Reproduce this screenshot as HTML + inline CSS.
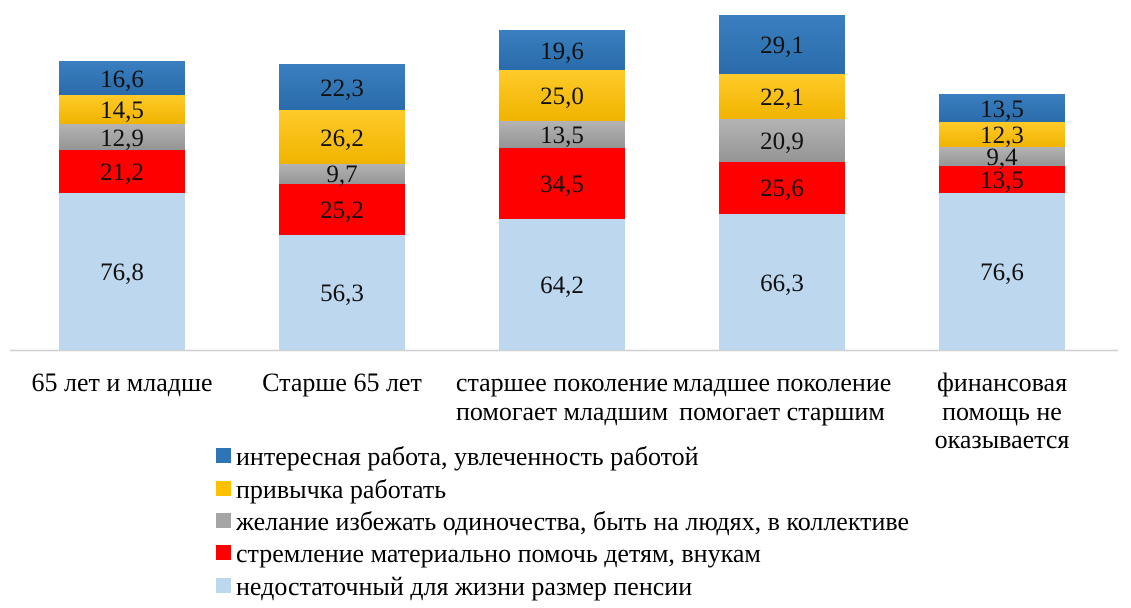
<!DOCTYPE html>
<html><head><meta charset="utf-8"><style>
body{margin:0;background:#fff;}
</style></head><body>
<svg width="1131" height="603" xmlns="http://www.w3.org/2000/svg" font-family="Liberation Serif, serif">
<defs>
<linearGradient id="gb" x1="0" y1="0" x2="0" y2="1"><stop offset="0" stop-color="#3a7fc0"/><stop offset="1" stop-color="#2a6cab"/></linearGradient>
<linearGradient id="gy" x1="0" y1="0" x2="0" y2="1"><stop offset="0" stop-color="#ffcb2a"/><stop offset="1" stop-color="#f0b400"/></linearGradient>
<linearGradient id="gg" x1="0" y1="0" x2="0" y2="1"><stop offset="0" stop-color="#b4b4b4"/><stop offset="1" stop-color="#959595"/></linearGradient>
</defs>
<line x1="10" y1="350.5" x2="1118" y2="350.5" stroke="#d0d0d0" stroke-width="1.5"/>
<g font-size="25" text-anchor="middle" fill="#111">
<rect x="59" y="193" width="126" height="157" fill="#bdd7ee"/>
<rect x="59" y="150" width="126" height="43" fill="#ff0000"/>
<rect x="59" y="124" width="126" height="26" fill="url(#gg)"/>
<rect x="59" y="95" width="126" height="29" fill="url(#gy)"/>
<rect x="59" y="61" width="126" height="34" fill="url(#gb)"/>
<text x="122" y="280">76,8</text><text x="122" y="180">21,2</text><text x="122" y="146">12,9</text><text x="122" y="118">14,5</text><text x="122" y="87">16,6</text>
<rect x="279" y="235" width="126" height="115" fill="#bdd7ee"/>
<rect x="279" y="184" width="126" height="51" fill="#ff0000"/>
<rect x="279" y="164" width="126" height="20" fill="url(#gg)"/>
<rect x="279" y="110" width="126" height="54" fill="url(#gy)"/>
<rect x="279" y="64" width="126" height="46" fill="url(#gb)"/>
<text x="342" y="301">56,3</text><text x="342" y="218">25,2</text><text x="342" y="182">9,7</text><text x="342" y="146">26,2</text><text x="342" y="96">22,3</text>
<rect x="499" y="219" width="126" height="131" fill="#bdd7ee"/>
<rect x="499" y="148" width="126" height="71" fill="#ff0000"/>
<rect x="499" y="121" width="126" height="27" fill="url(#gg)"/>
<rect x="499" y="70" width="126" height="51" fill="url(#gy)"/>
<rect x="499" y="30" width="126" height="40" fill="url(#gb)"/>
<text x="562" y="293">64,2</text><text x="562" y="192">34,5</text><text x="562" y="143">13,5</text><text x="562" y="104">25,0</text><text x="562" y="59">19,6</text>
<rect x="719" y="214" width="126" height="136" fill="#bdd7ee"/>
<rect x="719" y="162" width="126" height="52" fill="#ff0000"/>
<rect x="719" y="119" width="126" height="43" fill="url(#gg)"/>
<rect x="719" y="74" width="126" height="45" fill="url(#gy)"/>
<rect x="719" y="15" width="126" height="59" fill="url(#gb)"/>
<text x="782" y="291">66,3</text><text x="782" y="196">25,6</text><text x="782" y="149">20,9</text><text x="782" y="105">22,1</text><text x="782" y="53">29,1</text>
<rect x="939" y="193" width="126" height="157" fill="#bdd7ee"/>
<rect x="939" y="166" width="126" height="27" fill="#ff0000"/>
<rect x="939" y="147" width="126" height="19" fill="url(#gg)"/>
<rect x="939" y="122" width="126" height="25" fill="url(#gy)"/>
<rect x="939" y="94" width="126" height="28" fill="url(#gb)"/>
<text x="1002" y="280">76,6</text><text x="1002" y="188">13,5</text><text x="1002" y="165">9,4</text><text x="1002" y="143">12,3</text><text x="1002" y="117">13,5</text>
</g>
<g font-size="26" text-anchor="middle" fill="#000">
<text x="122" y="391">65 лет и младше</text>
<text x="342" y="391">Старше 65 лет</text>
<text x="562" y="391">старшее поколение</text><text x="562" y="420">помогает младшим</text>
<text x="782" y="391">младшее поколение</text><text x="782" y="420">помогает старшим</text>
<text x="1002" y="391">финансовая</text><text x="1002" y="420">помощь не</text><text x="1002" y="448">оказывается</text>
</g>
<g font-size="26" fill="#000">
<rect x="216" y="448" width="15" height="15" fill="#2e75b6"/><text x="236" y="465">интересная работа, увлеченность работой</text>
<rect x="216" y="481" width="15" height="15" fill="#ffc000"/><text x="236" y="498">привычка работать</text>
<rect x="216" y="513" width="15" height="15" fill="#a5a5a5"/><text x="236" y="530">желание избежать одиночества, быть на людях, в коллективе</text>
<rect x="216" y="545" width="15" height="15" fill="#ff0000"/><text x="236" y="562">стремление материально помочь детям, внукам</text>
<rect x="216" y="578" width="15" height="15" fill="#bdd7ee"/><text x="236" y="595">недостаточный для жизни размер пенсии</text>
</g>
</svg>
</body></html>
